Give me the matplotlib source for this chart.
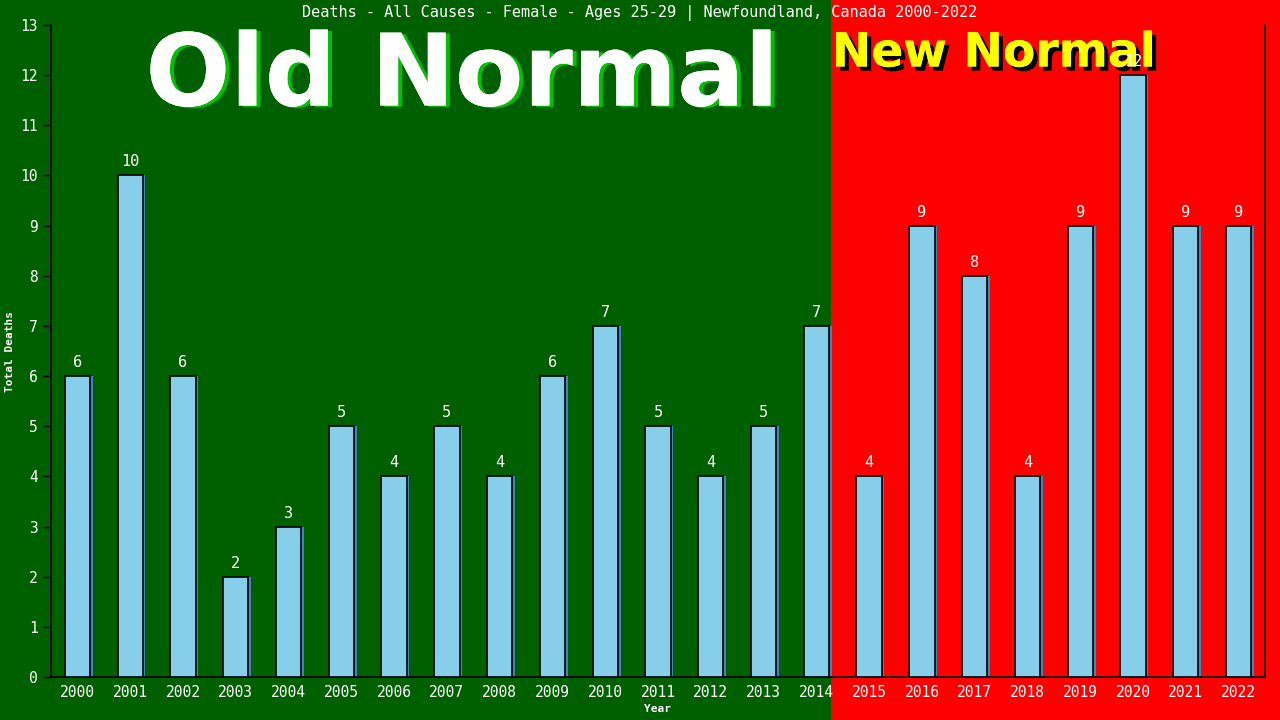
import matplotlib.pyplot as plt
import matplotlib.patheffects as pe
from matplotlib.patches import Rectangle

# data
years = [str(y) for y in range(2000, 2023)]
deaths = [6, 10, 6, 2, 3, 5, 4, 5, 4, 6, 7, 5, 4, 5, 7, 4, 9, 8, 4, 9, 12, 9, 9]
split_year = 2015

fig = plt.figure(figsize=(12.8, 7.2), dpi=100)
fig.patch.set_facecolor('#006000')

ax = fig.add_axes([51 / 1280, 1 - 677 / 720, (1265 - 51) / 1280, (677 - 25) / 720])
ax.set_facecolor('none')
ax.set_zorder(5)  # bars and labels on top of the big texts

ax.set_xlim(-0.5, len(years) - 0.5)
ax.set_ylim(0, 13)

# background split: green old normal, red new normal
split_idx = years.index(str(split_year))
fig.canvas.draw()
split_px = ax.transData.transform((split_idx - 0.73, 0))[0] / fig.bbox.width
fig.patches.append(Rectangle((split_px, 0), 1 - split_px, 1, transform=fig.transFigure,
                             facecolor='#ff0000', edgecolor='none', zorder=-10))

xs = list(range(len(years)))
ax.bar([x + 0.05 for x in xs], deaths, width=0.48, color='#4682b4', zorder=2)
ax.bar(xs, deaths, width=0.48, color='#87ceeb', edgecolor='black', linewidth=1.2, zorder=3)

mono = 'DejaVu Sans Mono'
for x, v in zip(xs, deaths):
    ax.text(x, v + 0.12, str(v), ha='center', va='bottom', color='white',
            fontsize=11, family=mono, zorder=4)

ax.set_xticks(xs)
ax.set_xticklabels(years, family=mono, fontsize=10.5, color='white')
ax.set_yticks(range(0, 14))
ax.set_yticklabels([str(i) for i in range(0, 14)], family=mono, fontsize=10.5, color='white')
ax.tick_params(axis='x', length=0, pad=6)
ax.tick_params(axis='y', length=6, width=1, color='black')

for s in ['left', 'bottom', 'right']:
    ax.spines[s].set_color('black')
    ax.spines[s].set_linewidth(1.2)
ax.spines['top'].set_visible(False)

ax.set_xlabel('Year', family=mono, fontsize=8, color='white', fontweight='bold', labelpad=3)
ax.set_ylabel('Total Deaths', family=mono, fontsize=8, color='white', fontweight='bold')
ax.yaxis.set_label_coords(-0.03, 0.5)

fig.text(0.5, 0.982, 'Deaths - All Causes - Female - Ages 25-29 | Newfoundland, Canada 2000-2022',
         ha='center', va='center', color='white', fontsize=11, family=mono)

fig.text(462 / 1280, 1 - 78 / 720, 'Old Normal', ha='center', va='center', color='white',
         fontsize=72, fontweight='bold', family='DejaVu Sans',
         path_effects=[pe.withSimplePatchShadow(offset=(3, -1), shadow_rgbFace='#00c000', alpha=1),
                       pe.Normal()])
fig.text(994 / 1280, 1 - 54 / 720, 'New Normal', ha='center', va='center', color='yellow',
         fontsize=34, fontweight='bold', family='DejaVu Sans',
         path_effects=[pe.withSimplePatchShadow(offset=(3, -3), shadow_rgbFace='black', alpha=1),
                       pe.Normal()])

fig.savefig('out.png', dpi=100, facecolor=fig.get_facecolor())
